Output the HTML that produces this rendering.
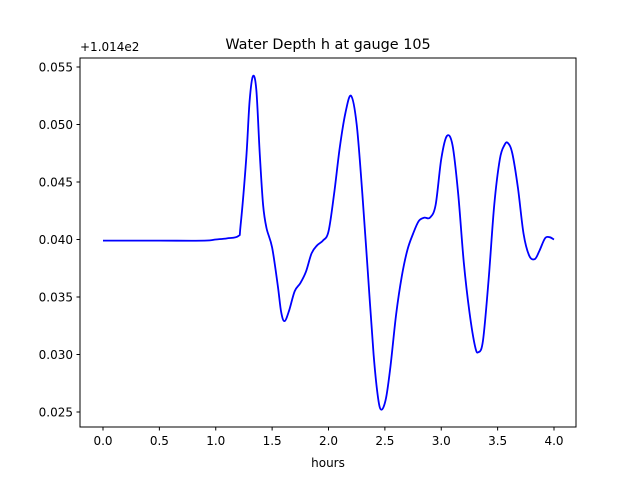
<!DOCTYPE html>
<html><head><meta charset="utf-8"><style>
html,body{margin:0;padding:0;background:#fff;}
svg text{font-family:"DejaVu Sans","Liberation Sans",sans-serif;fill:#000;}
</style></head><body>
<svg id="chart" width="640" height="480" viewBox="0 0 640 480" xmlns="http://www.w3.org/2000/svg">
<rect width="640" height="480" fill="#fff"/>
<text x="328" y="49" font-size="14.4" text-anchor="middle">Water Depth h at gauge 105</text>
<text x="80" y="51" font-size="12">+1.014e2</text>
<g id="xticks"></g>
<g id="yticks"></g>
<path id="line" fill="none" stroke="#0000ff" stroke-width="1.8" stroke-linejoin="round"/>
<rect x="80" y="58" width="496" height="369" fill="none" stroke="#000" stroke-width="1"/>
<text x="328" y="467" font-size="12" text-anchor="middle">hours</text>
</svg>
<script>
const hours=[0,0.5,0.9,1.0,1.1,1.2,1.22,1.27,1.3,1.33,1.36,1.39,1.42,1.45,1.5,1.55,1.58,1.61,1.65,1.7,1.75,1.8,1.85,1.9,1.95,2.0,2.05,2.1,2.15,2.2,2.25,2.3,2.35,2.4,2.44,2.47,2.51,2.55,2.6,2.65,2.7,2.75,2.8,2.85,2.9,2.95,3.0,3.05,3.1,3.15,3.2,3.25,3.3,3.33,3.37,3.42,3.47,3.52,3.56,3.59,3.63,3.68,3.73,3.78,3.83,3.87,3.92,3.96,4.0];
const depth=[0.0399,0.0399,0.0399,0.0400,0.0401,0.0403,0.0412,0.0470,0.0520,0.0542,0.0530,0.0475,0.0430,0.0410,0.0393,0.0360,0.0337,0.0329,0.0338,0.0355,0.0362,0.0372,0.0388,0.0395,0.0399,0.0407,0.0440,0.0480,0.0510,0.0525,0.0500,0.0440,0.0370,0.0300,0.0262,0.0252,0.0262,0.0290,0.0335,0.0368,0.0391,0.0405,0.0416,0.0419,0.0419,0.0430,0.0470,0.0490,0.0482,0.0440,0.0380,0.0337,0.0307,0.0302,0.0312,0.0365,0.0430,0.0470,0.0482,0.0484,0.0475,0.0445,0.0405,0.0386,0.0383,0.0390,0.0401,0.0402,0.0400];
const xTicks=[0,0.5,1,1.5,2,2.5,3,3.5,4];
const yTicks=[0.025,0.030,0.035,0.040,0.045,0.050,0.055];
const xs=v=>103+v*112.75;
const ys=v=>67+(0.055-v)*11500;
const NS="http://www.w3.org/2000/svg";
const gx=document.getElementById('xticks'),gy=document.getElementById('yticks');
xTicks.forEach(t=>{
 const l=document.createElementNS(NS,'line');
 
 
 l.setAttribute('x1',xs(t));l.setAttribute('x2',xs(t));l.setAttribute('y1',427);l.setAttribute('y2',430.5);l.setAttribute('stroke','#000');
 gx.appendChild(l);
 const tx=document.createElementNS(NS,'text');
 
 
 tx.setAttribute('x',xs(t));tx.setAttribute('y',445);tx.setAttribute('font-size','12');tx.setAttribute('text-anchor','middle');
 tx.textContent=t.toFixed(1);gx.appendChild(tx);
});
yTicks.forEach(t=>{
 const l=document.createElementNS(NS,'line');
 
 
 l.setAttribute('x1',76.5);l.setAttribute('x2',80);l.setAttribute('y1',ys(t));l.setAttribute('y2',ys(t));l.setAttribute('stroke','#000');
 gy.appendChild(l);
 const tx=document.createElementNS(NS,'text');
 
 
 tx.setAttribute('x',73);tx.setAttribute('y',ys(t)+4.5);tx.setAttribute('font-size','12');tx.setAttribute('text-anchor','end');
 tx.textContent=t.toFixed(3);gy.appendChild(tx);
});
const P=hours.map((h,i)=>[xs(h),ys(depth[i])]);
let d='M'+P[0][0]+','+P[0][1];
for(let i=0;i<P.length-1;i++){
 const p0=P[Math.max(0,i-1)],p1=P[i],p2=P[i+1],p3=P[Math.min(P.length-1,i+2)];
 const c1=[p1[0]+(p2[0]-p0[0])/6,p1[1]+(p2[1]-p0[1])/6];
 const c2=[p2[0]-(p3[0]-p1[0])/6,p2[1]-(p3[1]-p1[1])/6];
 d+=' C'+c1[0]+','+c1[1]+' '+c2[0]+','+c2[1]+' '+p2[0]+','+p2[1];
}
document.getElementById('line').setAttribute('d',d);
</script>
</body></html>
